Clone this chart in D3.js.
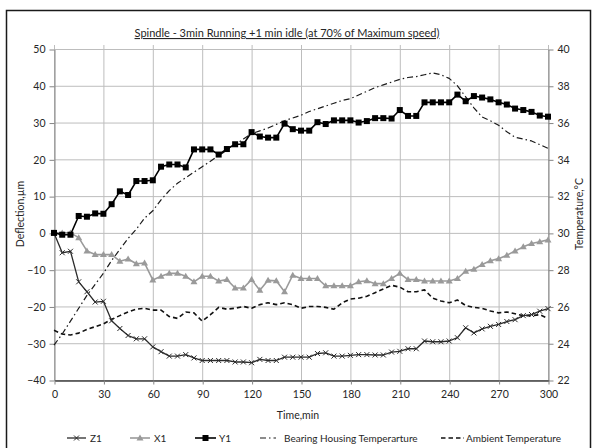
<!DOCTYPE html>
<html><head><meta charset="utf-8">
<script src="https://cdn.jsdelivr.net/npm/d3@7"></script>
<style>
body{margin:0;background:#fff}
svg text{font-family:Lato,"Open Sans",sans-serif;fill:#262626}
</style>
</head><body>
<svg id="chart" width="597" height="448"></svg>
<script>
// Sampling times (min)
const minutes = [0,5,10,15,20,25,30,35,40,45,50,55,60,65,70,75,80,85,90,95,100,105,110,115,120,125,130,135,140,145,150,155,160,165,170,175,180,185,190,195,200,205,210,215,220,225,230,235,240,245,250,255,260,265,270,275,280,285,290,295,300];

// Spindle deflections (µm)
const z1 = [0,-5.4,-5.0,-13.3,-16.0,-18.8,-18.6,-23.9,-26.0,-27.9,-28.8,-28.8,-31.0,-32.3,-33.5,-33.5,-33.1,-34.0,-34.7,-34.7,-34.7,-34.7,-35.1,-35.1,-35.3,-34.4,-34.7,-34.7,-33.8,-33.8,-33.8,-33.8,-32.8,-32.6,-33.5,-33.5,-33.3,-33.1,-33.1,-33.2,-33.2,-32.4,-32.2,-31.5,-31.5,-29.4,-29.6,-29.6,-29.4,-28.5,-25.8,-27.2,-26.1,-25.4,-24.9,-24.1,-23.6,-22.5,-22.2,-21.3,-20.6];
const x1 = [0,0,0,-1.3,-4.9,-5.9,-5.9,-5.9,-7.7,-7.1,-8.4,-8.2,-12.8,-11.8,-11.0,-11.0,-11.8,-13.3,-11.8,-11.8,-13.1,-12.7,-15.0,-15.0,-12.7,-15.6,-12.9,-13.0,-16.0,-11.5,-12.4,-12.4,-12.4,-14.4,-14.4,-14.4,-14.4,-13.3,-13.0,-13.8,-13.8,-12.4,-11.0,-12.7,-12.7,-13.1,-13.1,-13.1,-13.1,-12.4,-10.4,-9.9,-8.6,-7.6,-7.0,-6.1,-4.9,-3.8,-2.9,-2.4,-1.9];
const y1 = [0,-0.5,-0.5,4.6,4.4,5.3,5.2,7.8,11.3,10.3,14.1,14.1,14.3,18.0,18.6,18.6,17.8,22.7,22.7,22.7,21.3,22.8,24.1,24.1,27.4,26.2,25.9,25.9,29.7,28.2,27.8,27.8,30.1,29.6,30.6,30.6,30.6,30.0,30.4,31.2,31.2,31.1,33.4,31.8,31.8,35.5,35.5,35.5,35.5,37.6,35.8,37.2,36.8,36.3,35.5,34.9,33.8,33.4,32.9,31.9,31.6];

// Temperatures (°C)
const bearingTemp = [23.9,24.5,25.2,25.9,26.6,27.2,27.8,28.5,29.1,29.7,30.2,30.8,31.2,31.8,32.3,32.7,33.0,33.3,33.6,33.9,34.2,34.5,34.8,35.1,35.4,35.55,35.7,35.9,36.1,36.25,36.4,36.6,36.75,36.9,37.05,37.2,37.3,37.5,37.7,37.9,38.05,38.2,38.35,38.45,38.5,38.6,38.7,38.6,38.4,38.0,37.4,36.8,36.3,36.1,35.85,35.5,35.2,35.1,35.0,34.8,34.6];
const ambientTemp = [24.7,24.5,24.45,24.55,24.75,24.9,25.05,25.3,25.5,25.7,25.85,25.9,25.8,25.8,25.45,25.35,25.7,25.65,25.2,25.55,25.95,25.85,25.9,26.0,25.9,26.1,26.2,26.1,26.2,26.1,25.9,26.0,26.0,25.95,25.85,26.2,26.4,26.45,26.55,26.75,26.95,27.15,27.05,26.8,26.8,26.9,26.45,26.3,26.2,26.35,26.05,25.95,25.9,25.75,25.65,25.7,25.6,25.5,25.5,25.55,25.35];

// Axis ticks
const timeTicks = [0,30,60,90,120,150,180,210,240,270,300];
const deflectionTicks = [-40,-30,-20,-10,0,10,20,30,40,50];
const tempTicks = [22,24,26,28,30,32,34,36,38,40];

const svg = d3.select("#chart");
const plot = {left:54, right:548, top:49, bottom:380};

const x = d3.scaleLinear().domain([0,300]).range([plot.left, plot.right]);
const yL = d3.scaleLinear().domain([-40,50]).range([plot.bottom, plot.top]);
const yR = d3.scaleLinear().domain([22,40]).range([plot.bottom, plot.top]);

// outer frame
svg.append("rect").attr("x",6.5).attr("y",10.5).attr("width",584).attr("height",460)
  .attr("fill","#fff").attr("stroke","#1a1a1a").attr("stroke-width",1.5);

// title
svg.append("text").attr("x",287).attr("y",37).attr("text-anchor","middle")
  .style("font-size","11px").style("text-decoration","underline")
  .text("Spindle - 3min Running +1 min idle (at 70% of Maximum speed)");

// gridlines
const grid = svg.append("g");
grid.selectAll("line.h").data(deflectionTicks).join("line")
  .attr("x1",plot.left).attr("x2",plot.right)
  .attr("y1",d=>yL(d)+0.5).attr("y2",d=>yL(d)+0.5)
  .attr("stroke","#bdbdbd").attr("stroke-width",1);
grid.selectAll("line.v").data(timeTicks).join("line")
  .attr("x1",d=>x(d)+0.5).attr("x2",d=>x(d)+0.5)
  .attr("y1",plot.top-4).attr("y2",plot.bottom)
  .attr("stroke","#bdbdbd").attr("stroke-width",1);

// axes
function styleAxis(g){
  g.selectAll("path.domain").attr("stroke","#858585");
  g.selectAll(".tick line").attr("stroke","#858585");
  g.selectAll(".tick text").style("font-size","10.5px").style("font-family","Lato,'Open Sans',sans-serif").attr("fill","#262626");
}
svg.append("g").attr("transform",`translate(${plot.left+0.5},0.5)`)
  .call(d3.axisLeft(yL).tickValues(deflectionTicks).tickSize(5).tickSizeOuter(0).tickPadding(4))
  .call(styleAxis);
svg.append("g").attr("transform",`translate(${plot.right+0.5},0.5)`)
  .call(d3.axisRight(yR).tickValues(tempTicks).tickSize(5).tickSizeOuter(0).tickPadding(4))
  .call(styleAxis);
svg.append("g").attr("transform",`translate(0.5,${plot.bottom+0.5})`)
  .call(d3.axisBottom(x).tickValues(timeTicks).tickSize(4).tickSizeOuter(0).tickPadding(6))
  .call(styleAxis)
  .call(g=>g.select("path.domain").attr("stroke","#404040").attr("stroke-width",1.5));

// axis titles
svg.append("text").attr("transform",`translate(24,214) rotate(-90)`).attr("text-anchor","middle")
  .style("font-size","10.5px").text("Deflection,µm");
svg.append("text").attr("transform",`translate(583,214) rotate(-90)`).attr("text-anchor","middle")
  .style("font-size","10.5px").text("Temperature,°C");
svg.append("text").attr("x",298).attr("y",419).attr("text-anchor","middle")
  .style("font-size","10.5px").text("Time,min");

// series
const series = [
  {name:"Z1", values:z1, scale:yL, color:"#2b2b2b", width:1.3, dash:null, marker:"x"},
  {name:"X1", values:x1, scale:yL, color:"#9a9a9a", width:1.6, dash:null, marker:"tri"},
  {name:"Y1", values:y1, scale:yL, color:"#000", width:1.6, dash:null, marker:"sq"},
  {name:"Bearing Housing Temperarture", values:bearingTemp, scale:yR, color:"#1a1a1a", width:1.2, dash:"6,3,1.5,3", marker:null},
  {name:"Ambient Temperature", values:ambientTemp, scale:yR, color:"#111", width:1.6, dash:"4.5,3", marker:null}
];

function drawMarker(g, type, cx, cy, color){
  if(type==="sq"){
    g.append("rect").attr("x",cx-3).attr("y",cy-3).attr("width",6).attr("height",6).attr("fill",color);
  } else if(type==="tri"){
    g.append("path").attr("d",`M${cx},${cy-3.5}L${cx+3.5},${cy+2.5}L${cx-3.5},${cy+2.5}Z`).attr("fill",color);
  } else if(type==="x"){
    g.append("path").attr("d",`M${cx-2.5},${cy-2.5}L${cx+2.5},${cy+2.5}M${cx-2.5},${cy+2.5}L${cx+2.5},${cy-2.5}`)
      .attr("stroke",color).attr("stroke-width",1);
  }
}

// temperatures first, then deflections on top
const order = [4,3,1,0,2];
order.forEach(i=>{
  const s = series[i];
  const line = d3.line().x((d,j)=>x(minutes[j])).y(d=>s.scale(d));
  svg.append("path").datum(s.values).attr("d",line)
    .attr("fill","none").attr("stroke",s.color).attr("stroke-width",s.width)
    .attr("stroke-dasharray",s.dash).attr("stroke-linejoin","round");
  if(s.marker){
    const mg = svg.append("g");
    s.values.forEach((v,j)=>drawMarker(mg,s.marker,x(minutes[j]),s.scale(v),s.color));
  }
});

// legend
const legendItems = [
  {i:0, x0:67, x1:86, tx:90},
  {i:1, x0:130, x1:150, tx:154},
  {i:2, x0:195, x1:216, tx:219},
  {i:3, x0:260, x1:276, tx:284},
  {i:4, x0:441, x1:464, tx:466}
];
const ly = 438;
const lg = svg.append("g");
legendItems.forEach(it=>{
  const s = series[it.i];
  lg.append("line").attr("x1",it.x0).attr("x2",it.x1).attr("y1",ly).attr("y2",ly)
    .attr("stroke",s.color).attr("stroke-width",s.width).attr("stroke-dasharray",s.dash);
  if(s.marker) drawMarker(lg,s.marker,(it.x0+it.x1)/2,ly,s.color);
  lg.append("text").attr("x",it.tx).attr("y",ly+3.5).style("font-size","10px").text(s.name);
});
</script>
</body></html>
